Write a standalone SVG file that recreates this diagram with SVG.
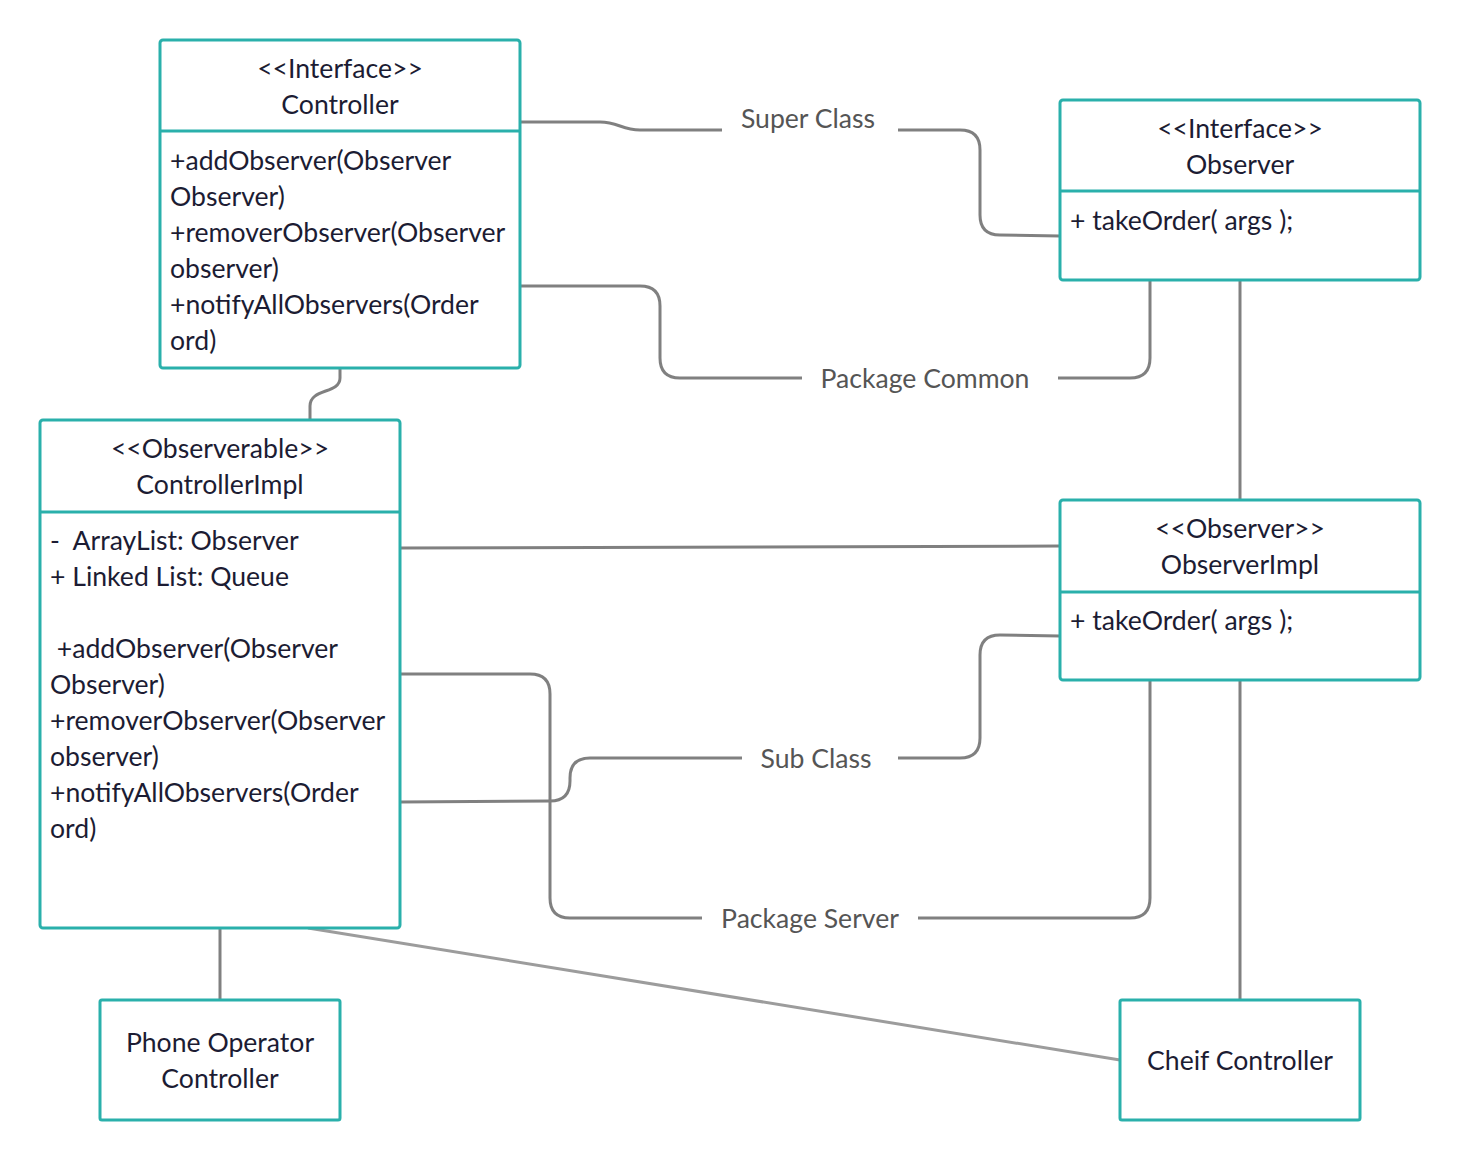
<svg xmlns="http://www.w3.org/2000/svg" width="1460" height="1160" viewBox="0 0 1460 1160">
  <style>
    .box { fill: #ffffff; stroke: #2ab0ab; stroke-width: 3; }
    .div { stroke: #2ab0ab; stroke-width: 3; }
    .t { font-family: Lato, "Liberation Sans", sans-serif; font-size: 26.6px; fill: #1c1c33; }
    .c { text-anchor: middle; }
    .lbl { font-family: Lato, "Liberation Sans", sans-serif; font-size: 26.6px; fill: #555555; text-anchor: middle; }
    .ln { fill: none; stroke: #808080; stroke-width: 3; }
    .ln2 { fill: none; stroke: #9c9c9c; stroke-width: 3; }
  </style>
  <rect width="1460" height="1160" fill="#ffffff"/>

  <g id="connectors">
    <!-- Super Class -->
    <path class="ln" d="M520 122 L600 122 C618 122 622 130 640 130 L722 130"/>
    <path class="ln" d="M898 130 L960 130 Q980 130 980 150 L980 215 Q980 235 1000 235 L1060 236"/>
    <text class="lbl" x="808" y="128">Super Class</text>
    <!-- Package Common -->
    <path class="ln" d="M520 286 L640 286 Q660 286 660 306 L660 358 Q660 378 680 378 L802 378"/>
    <path class="ln" d="M1058 378 L1130 378 Q1150 378 1150 358 L1150 280"/>
    <text class="lbl" x="925" y="388">Package Common</text>
    <!-- Controller to ControllerImpl -->
    <path class="ln" d="M340 368 L340 378 C340 394 310 388 310 406 L310 420"/>
    <!-- ControllerImpl to ObserverImpl -->
    <path class="ln" d="M400 548 L1060 546"/>
    <!-- Observer to ObserverImpl -->
    <path class="ln" d="M1240 280 L1240 500"/>
    <!-- Package Server -->
    <path class="ln" d="M400 674 L530 674 Q550 674 550 694 L550 898 Q550 918 570 918 L702 918"/>
    <path class="ln" d="M918 918 L1130 918 Q1150 918 1150 898 L1150 680"/>
    <text class="lbl" x="810" y="928">Package Server</text>
    <!-- Sub Class -->
    <path class="ln" d="M400 802 L550 801 Q570 801 570 781 L570 778 Q570 758 590 758 L742 758"/>
    <path class="ln" d="M898 758 L960 758 Q980 758 980 738 L980 655 Q980 635 1000 635 L1060 636"/>
    <text class="lbl" x="816" y="768">Sub Class</text>
    <!-- ControllerImpl to Phone Operator Controller -->
    <path class="ln" d="M220 928 L220 1000"/>
    <!-- ControllerImpl to Cheif Controller -->
    <path class="ln2" d="M308 928 L1120 1060"/>
    <!-- ObserverImpl to Cheif Controller -->
    <path class="ln" d="M1240 680 L1240 1000"/>
  </g>

  <g id="controller">
    <rect class="box" x="160" y="40" width="360" height="328" rx="3"/>
    <line class="div" x1="160" y1="131" x2="520" y2="131"/>
    <text class="t c" x="340" y="78">&lt;&lt;Interface&gt;&gt;</text>
    <text class="t c" x="340" y="114">Controller</text>
    <text class="t" x="170" y="170">+addObserver(Observer</text>
    <text class="t" x="170" y="206">Observer)</text>
    <text class="t" x="170" y="242">+removerObserver(Observer</text>
    <text class="t" x="170" y="278">observer)</text>
    <text class="t" x="170" y="314">+notifyAllObservers(Order</text>
    <text class="t" x="170" y="350">ord)</text>
  </g>

  <g id="observer">
    <rect class="box" x="1060" y="100" width="360" height="180" rx="3"/>
    <line class="div" x1="1060" y1="191" x2="1420" y2="191"/>
    <text class="t c" x="1240" y="138">&lt;&lt;Interface&gt;&gt;</text>
    <text class="t c" x="1240" y="174">Observer</text>
    <text class="t" x="1070" y="230">+ takeOrder( args );</text>
  </g>

  <g id="controllerImpl">
    <rect class="box" x="40" y="420" width="360" height="508" rx="3"/>
    <line class="div" x1="40" y1="512" x2="400" y2="512"/>
    <text class="t c" x="220" y="458">&lt;&lt;Observerable&gt;&gt;</text>
    <text class="t c" x="220" y="494">ControllerImpl</text>
    <text class="t" x="50" y="550" xml:space="preserve">-  ArrayList: Observer</text>
    <text class="t" x="50" y="586">+ Linked List: Queue</text>
    <text class="t" x="50" y="658" xml:space="preserve"> +addObserver(Observer</text>
    <text class="t" x="50" y="694">Observer)</text>
    <text class="t" x="50" y="730">+removerObserver(Observer</text>
    <text class="t" x="50" y="766">observer)</text>
    <text class="t" x="50" y="802">+notifyAllObservers(Order</text>
    <text class="t" x="50" y="838">ord)</text>
  </g>

  <g id="observerImpl">
    <rect class="box" x="1060" y="500" width="360" height="180" rx="3"/>
    <line class="div" x1="1060" y1="592" x2="1420" y2="592"/>
    <text class="t c" x="1240" y="538">&lt;&lt;Observer&gt;&gt;</text>
    <text class="t c" x="1240" y="574">ObserverImpl</text>
    <text class="t" x="1070" y="630">+ takeOrder( args );</text>
  </g>

  <g id="phoneOperatorController">
    <rect class="box" x="100" y="1000" width="240" height="120" rx="2"/>
    <text class="t c" x="220" y="1052">Phone Operator</text>
    <text class="t c" x="220" y="1088">Controller</text>
  </g>

  <g id="cheifController">
    <rect class="box" x="1120" y="1000" width="240" height="120" rx="2"/>
    <text class="t c" x="1240" y="1070">Cheif Controller</text>
  </g>
</svg>
